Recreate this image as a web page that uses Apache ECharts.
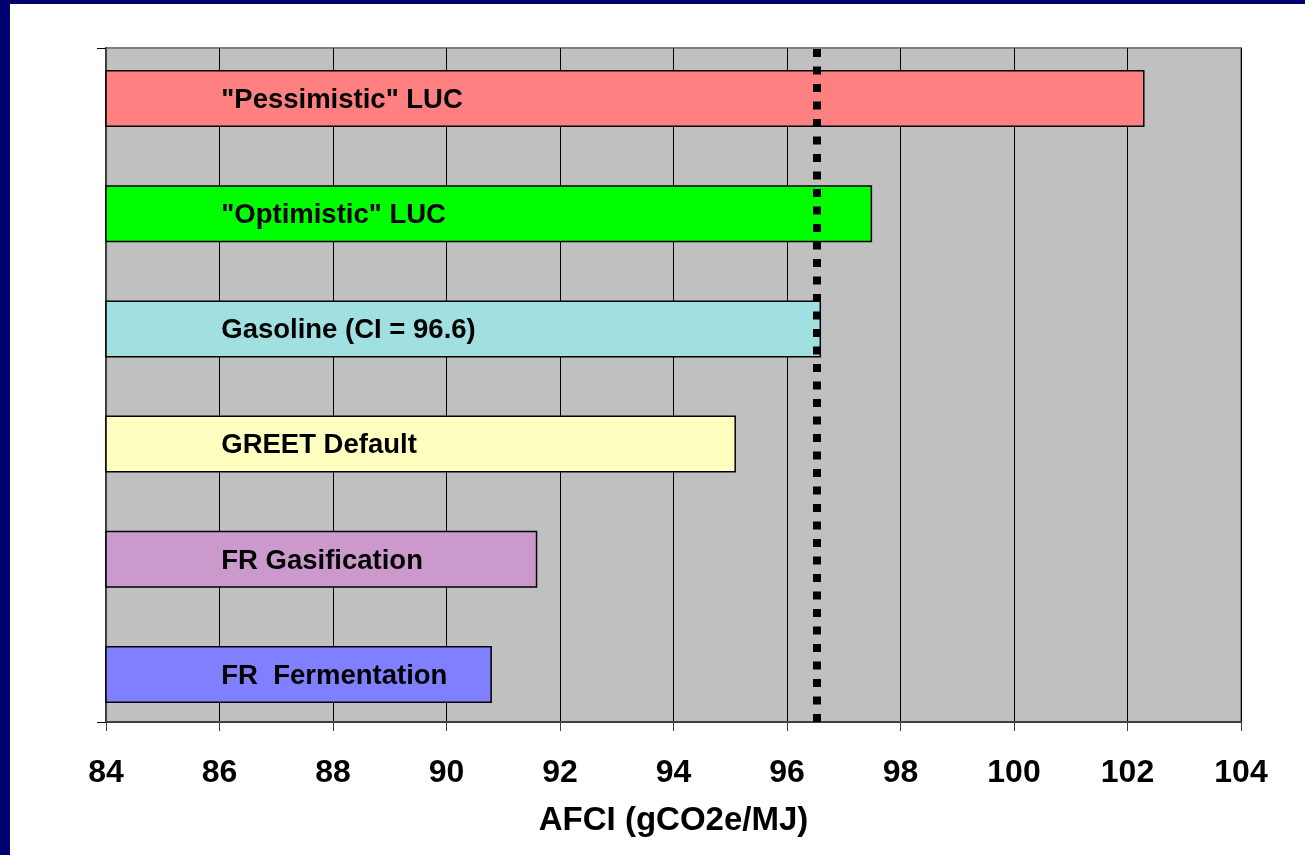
<!DOCTYPE html>
<html>
<head>
<meta charset="utf-8">
<script src="https://cdn.jsdelivr.net/npm/echarts@6/dist/echarts.min.js"></script>
<style>
  html, body { margin: 0; padding: 0; background: #ffffff; }
  #frame { position: absolute; left: 0; top: 0; width: 1305px; height: 855px; background: #ffffff;
           border-left: 10px solid #00006E; border-top: 4px solid #00006E; box-sizing: border-box; }
  #chart { position: absolute; left: 0; top: 0; width: 1305px; height: 855px; }
</style>
</head>
<body>
<div id="frame"></div>
<div id="chart"></div>
<script>
// Fuel pathways, listed top to bottom
const categories = ['"Pessimistic" LUC', '"Optimistic" LUC', 'Gasoline (CI = 96.6)', 'GREET Default', 'FR Gasification', 'FR  Fermentation'];
// Carbon intensity of each pathway (gCO2e/MJ)
const values = [102.3, 97.5, 96.6, 95.1, 91.6, 90.8];
const barColors = ['#FF8080', '#00FF00', '#A0E0E0', '#FFFFC0', '#CC99CC', '#8080FF'];
// Reference level drawn as the dotted vertical line
const referenceLine = [96.52];
// x axis range and tick step
const xMin = 84, xMax = 104, xStep = 2;

const FONT = '"Liberation Sans", Arial, sans-serif';

const chart = echarts.init(document.getElementById('chart'), null, { renderer: 'canvas' });

chart.setOption({
  animation: false,
  grid: [
    // visible plot area
    { left: 106, right: 64, top: 48, height: 674, show: true, backgroundColor: '#C0C0C0',
      borderColor: '#808080', borderWidth: 2 },
    // band layout for the bars
    { left: 106, right: 64, top: 41, height: 691 }
  ],
  xAxis: [
    {
      gridIndex: 0, type: 'value', min: xMin, max: xMax, interval: xStep,
      axisLine: { show: true, lineStyle: { color: '#404040', width: 2 } },
      axisTick: { show: true, length: 9, lineStyle: { color: '#404040', width: 1 } },
      axisLabel: { color: '#000', fontSize: 32, fontWeight: 'bold', fontFamily: FONT, margin: 35 },
      splitLine: { show: true, lineStyle: { color: '#000', width: 1 } },
      name: 'AFCI (gCO2e/MJ)', nameLocation: 'middle', nameGap: 82,
      nameTextStyle: { color: '#000', fontSize: 33, fontWeight: 'bold', fontFamily: FONT }
    },
    {
      gridIndex: 1, type: 'value', min: xMin, max: xMax, interval: xStep, show: false,
      splitLine: { show: false }
    }
  ],
  yAxis: [
    {
      gridIndex: 0, type: 'value', min: 0, max: 1, interval: 1,
      axisLine: { show: true, lineStyle: { color: '#404040', width: 2 } },
      axisTick: { show: true, length: 9, lineStyle: { color: '#000', width: 1 } },
      axisLabel: { show: false },
      splitLine: { show: false }
    },
    {
      gridIndex: 1, type: 'category', data: categories, inverse: true, show: false
    }
  ],
  series: [
    {
      type: 'bar',
      xAxisIndex: 1, yAxisIndex: 1,
      barWidth: 57,
      data: values.map((v, i) => ({ value: v, itemStyle: { color: barColors[i] } })),
      itemStyle: { borderColor: '#000', borderWidth: 1.5 },
      label: {
        show: true,
        position: [116, '53%'],
        align: 'left',
        verticalAlign: 'middle',
        formatter: p => categories[p.dataIndex],
        color: '#000', fontSize: 27.5, fontWeight: 'bold', fontFamily: FONT
      },
      silent: true
    },
    {
      type: 'scatter',
      xAxisIndex: 0, yAxisIndex: 0,
      data: [],
      markLine: {
        silent: true,
        symbol: ['none', 'none'],
        label: { show: false },
        lineStyle: { color: '#000', width: 8, type: [8, 9.5], cap: 'butt' },
        data: referenceLine.map(v => ({ xAxis: v }))
      }
    }
  ]
});
</script>
</body>
</html>
